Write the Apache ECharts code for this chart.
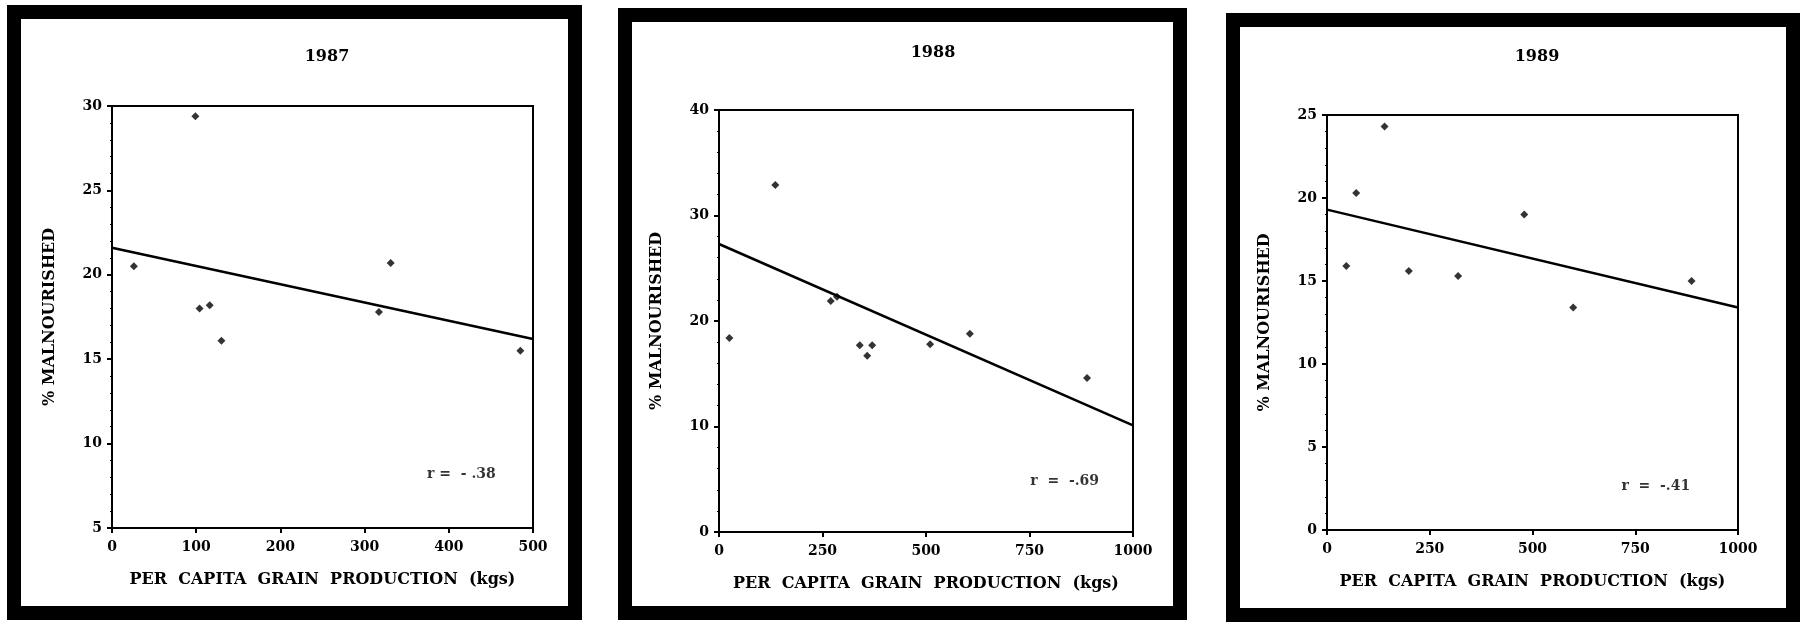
<!DOCTYPE html>
<html>
<head>
<meta charset="utf-8">
<script src="https://cdn.jsdelivr.net/npm/echarts@6/dist/echarts.min.js"></script>
<style>
html, body {margin: 0; background: #fff;}
#chart {width: 1800px; height: 622px;}
</style>
</head>
<body>
<div id="chart"></div>
<script>
var chart = echarts.init(document.getElementById('chart'));

// panel titles
var years = ['1987', '1988', '1989'];

// [grain production kgs, % malnourished]
var points1987 = [[26, 20.5], [99, 29.4], [104, 18.0], [116, 18.2], [130, 16.1], [317, 17.8], [331, 20.7], [485, 15.5]];
var points1988 = [[25, 18.4], [136, 32.9], [270, 21.9], [285, 22.3], [340, 17.7], [370, 17.7], [358, 16.7], [510, 17.8], [606, 18.8], [889, 14.6]];
var points1989 = [[47, 15.9], [71, 20.3], [140, 24.3], [199, 15.6], [319, 15.3], [480, 19.0], [599, 13.4], [887, 15.0]];

// regression line end points
var fit1987 = [[0, 21.6], [500, 16.2]];
var fit1988 = [[0, 27.3], [1000, 10.1]];
var fit1989 = [[0, 19.3], [1000, 13.4]];

// correlation labels and where they sit (data coords)
var rText = ['r =  - .38', 'r  =  -.69', 'r  =  -.41'];
var rPos = [[415, 8.2], [835, 4.8], [800, 2.6]];

// axis ranges
var xMax = [500, 1000, 1000];
var xStep = [100, 250, 250];
var yMin = [5, 0, 0];
var yMax = [30, 40, 25];
var yStep = [5, 10, 5];

var font = 'DejaVu Serif';
var grids = [
    {left: 112, top: 106, width: 421, height: 422},
    {left: 719, top: 110, width: 414, height: 422},
    {left: 1327, top: 115, width: 411, height: 415}
];
var titlePos = [[322, 44], [928, 40], [1532, 44]];

var pointSets = [points1987, points1988, points1989];
var fits = [fit1987, fit1988, fit1989];

var xAxes = [], yAxes = [], series = [], titles = [];
for (var i = 0; i < 3; i++) {
    grids[i].show = true;
    grids[i].borderColor = '#000';
    grids[i].borderWidth = 2;
    titles.push({
        text: years[i],
        left: titlePos[i][0],
        top: titlePos[i][1],
        textAlign: 'center',
        textStyle: {fontFamily: font, fontWeight: 'bold', fontSize: 16, color: '#000'}
    });
    xAxes.push({
        gridIndex: i,
        type: 'value',
        min: 0,
        max: xMax[i],
        interval: xStep[i],
        name: 'PER  CAPITA  GRAIN  PRODUCTION  (kgs)',
        nameLocation: 'middle',
        nameGap: 44,
        nameTextStyle: {fontFamily: font, fontWeight: 'bold', fontSize: 16, color: '#000'},
        axisLine: {lineStyle: {color: '#000', width: 2}},
        axisTick: {length: 5, lineStyle: {color: '#000', width: 2}},
        axisLabel: {
            fontFamily: font, fontWeight: 'bold', fontSize: 14, color: '#000', margin: 12,
            formatter: function (v) { return String(v); }
        },
        splitLine: {show: false}
    });
    yAxes.push({
        gridIndex: i,
        type: 'value',
        min: yMin[i],
        max: yMax[i],
        interval: yStep[i],
        name: '% MALNOURISHED',
        nameLocation: 'middle',
        nameGap: 54,
        nameTextStyle: {fontFamily: font, fontWeight: 'bold', fontSize: 16, color: '#000'},
        axisLine: {lineStyle: {color: '#000', width: 2}},
        axisTick: {length: 5, lineStyle: {color: '#000', width: 2}},
        minorTick: {show: true, splitNumber: 5, length: 2, lineStyle: {color: '#000', width: 1}},
        axisLabel: {fontFamily: font, fontWeight: 'bold', fontSize: 14, color: '#000', margin: 10},
        splitLine: {show: false}
    });
    series.push({
        type: 'scatter',
        xAxisIndex: i,
        yAxisIndex: i,
        data: pointSets[i],
        symbol: 'diamond',
        symbolSize: 8,
        itemStyle: {color: '#000'}
    });
    series.push({
        type: 'line',
        xAxisIndex: i,
        yAxisIndex: i,
        data: fits[i],
        symbol: 'none',
        lineStyle: {color: '#000', width: 2.5}
    });
    series.push({
        type: 'scatter',
        xAxisIndex: i,
        yAxisIndex: i,
        data: [rPos[i]],
        symbolSize: 0,
        label: {
            show: true,
            position: 'inside',
            formatter: rText[i],
            fontFamily: font,
            fontWeight: 'bold',
            fontSize: 14,
            color: '#000'
        }
    });
}

// the black frames round each panel
var frames = [
    [14, 12, 561, 601],
    [625, 15, 555, 598],
    [1233, 20, 560, 595]
];
var graphics = frames.map(function (f) {
    return {
        type: 'rect',
        shape: {x: f[0], y: f[1], width: f[2], height: f[3]},
        style: {fill: null, stroke: '#000', lineWidth: 14},
        z: 10
    };
});

chart.setOption({
    backgroundColor: '#fff',
    animation: false,
    title: titles,
    grid: grids,
    xAxis: xAxes,
    yAxis: yAxes,
    series: series,
    graphic: graphics
});
</script>
</body>
</html>
